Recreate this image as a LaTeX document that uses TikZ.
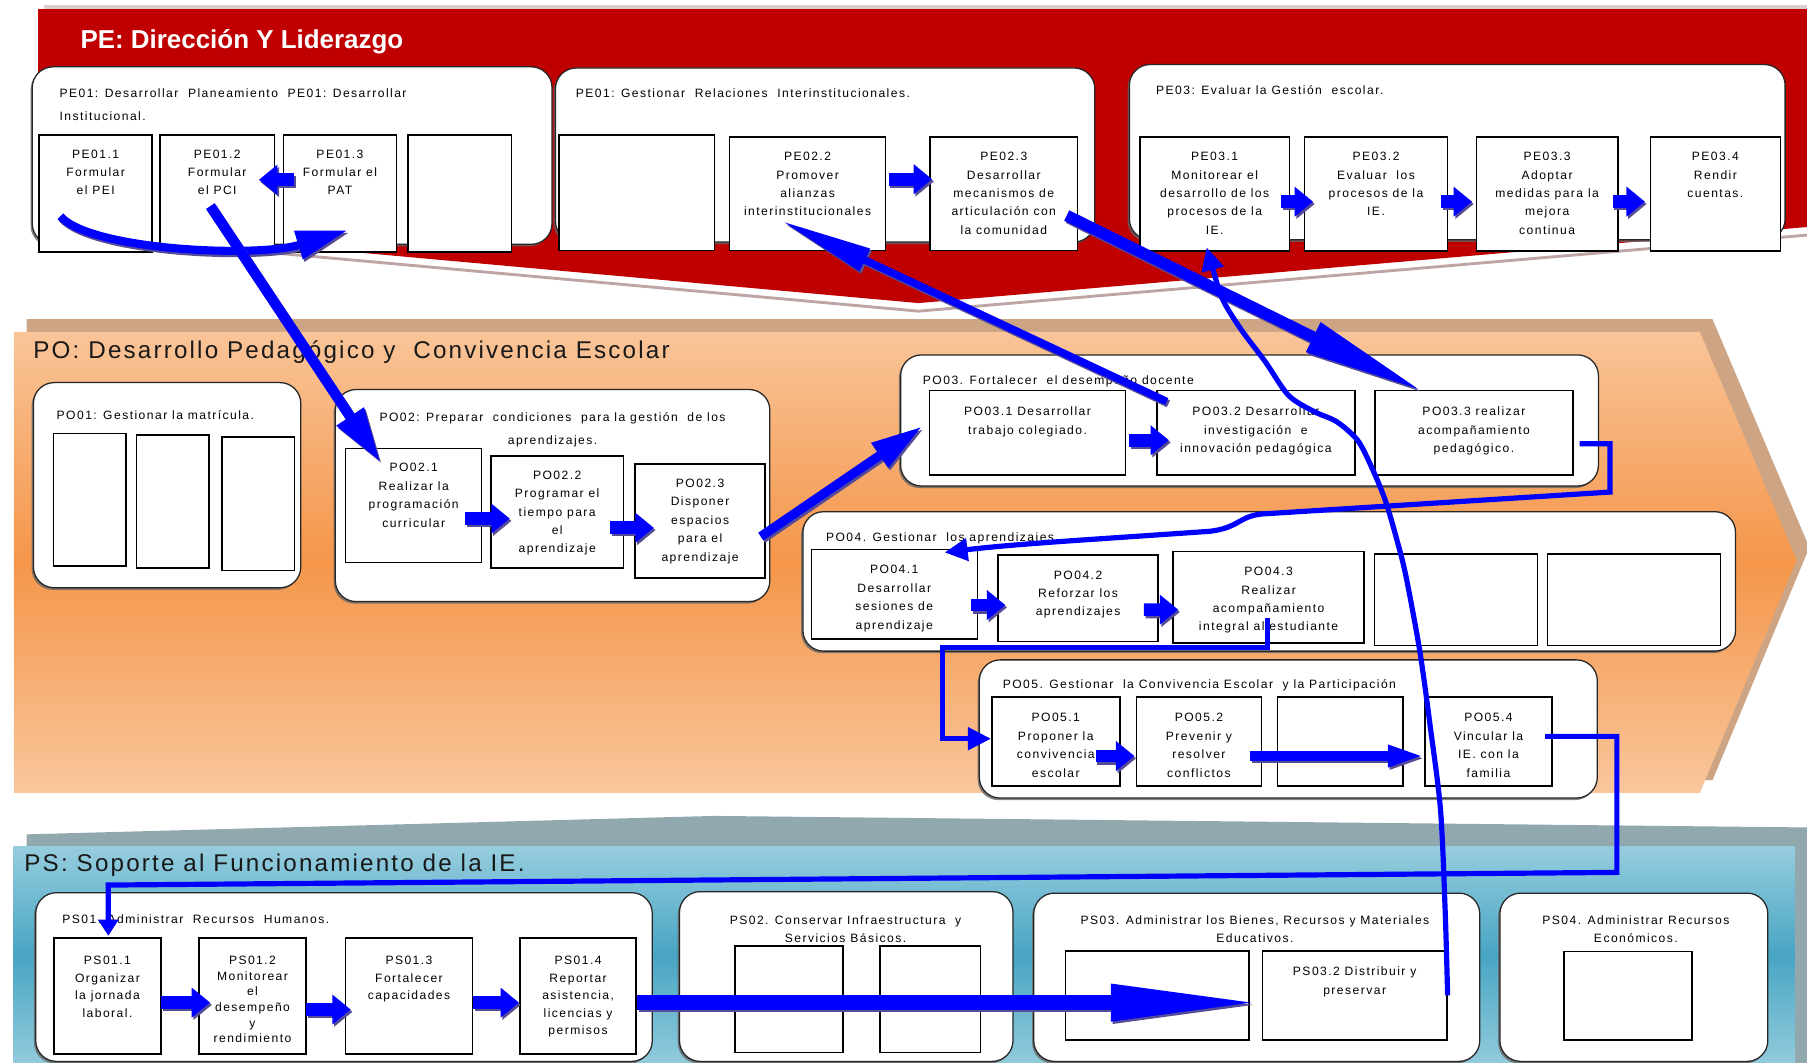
\documentclass[tikz,border=0pt]{standalone}
\usepackage{fontspec}
\setmainfont{Liberation Sans}
\newfontfamily\smallf[LetterSpace=12]{Liberation Sans}
\newfontfamily\titlef[LetterSpace=9]{Liberation Sans}
\usetikzlibrary{arrows.meta,calc,shadows}

\definecolor{pered}{RGB}{192,0,0}
\definecolor{peshadow}{RGB}{190,165,165}
\definecolor{petop}{RGB}{220,205,205}
\definecolor{potan}{RGB}{205,165,132}
\definecolor{potop}{RGB}{249,196,152}
\definecolor{pomid}{RGB}{245,150,74}
\definecolor{pobot}{RGB}{249,198,156}
\definecolor{psgrey}{RGB}{145,168,175}
\definecolor{pstop}{RGB}{150,205,222}
\definecolor{psmid}{RGB}{72,165,195}
\definecolor{psbot}{RGB}{145,203,220}
\definecolor{arrblue}{RGB}{0,0,255}
\definecolor{arrshadow}{RGB}{85,75,150}
\definecolor{titledark}{RGB}{25,25,25}

\newcommand\procbx[7]{%
  \pgfmathsetmacro\pbw{#4-#2}\pgfmathsetmacro\pbh{#5-#3}%
  \pgfmathsetmacro\pbX{(#2+#4)/2}\pgfmathsetmacro\pbY{(#3+#5)/2}%
  \node[procbox, minimum width=\pbw pt, minimum height=\pbh pt] (#1) at (\pbX,\pbY)
    {\parbox[c][\pbh pt][t]{\pbw pt}{\centering\vspace*{#6pt}#7\par}};}
\newcommand\contbx[5]{%
  \pgfmathsetmacro\pbw{#4-#2}\pgfmathsetmacro\pbh{#5-#3}%
  \pgfmathsetmacro\pbX{(#2+#4)/2}\pgfmathsetmacro\pbY{(#3+#5)/2}%
  \node[contbox, minimum width=\pbw pt, minimum height=\pbh pt] (#1) at (\pbX,\pbY) {};}
\newcommand\shdarr[3]{%
  \draw[#1, draw=arrshadow] ($#2+(1.5,2)$) -- ($#3+(1.5,2)$);
  \draw[#1] ($#2$) -- ($#3$);}

\tikzset{
  procbox/.style={draw=black, line width=1.3pt, fill=white, inner sep=0pt,
    font=\smallf\fontsize{10.5}{16}\selectfont},
  contbox/.style={draw=black!85, line width=1.1pt, fill=white, rounded corners=18pt, inner sep=0pt,
    drop shadow={shadow xshift=-1.5pt, shadow yshift=-1.8pt, fill=black!60, opacity=0.8}},
  hdr/.style={inner sep=0pt, text=black, font=\smallf\fontsize{10.5}{16}\selectfont},
  blk/.style={line width=11pt, draw=arrblue, -{Triangle[length=16pt,width=25pt]}},
  bigA/.style={line width=9pt, draw=arrblue, -{Triangle[length=48pt,width=26pt]}},
  bigC/.style={line width=10pt, draw=arrblue, -{Triangle[length=108pt,width=26pt]}},
  bigD/.style={line width=6.5pt, draw=arrblue, -{Triangle[length=80pt,width=20pt]}},
  bigE/.style={line width=8pt, draw=arrblue, -{Triangle[length=45pt,width=24pt]}},
  bigF/.style={line width=8.5pt, draw=arrblue, -{Triangle[length=32pt,width=17pt]}},
  bigG/.style={line width=13pt, draw=arrblue, -{Triangle[length=134pt,width=29pt]}},
  curv/.style={line width=7pt, draw=arrblue, -{Triangle[length=45pt,width=24pt]}},
  thinc/.style={line width=4.5pt, draw=arrblue, line join=miter, -{Triangle[length=20pt,width=19pt]}},
}

\begin{document}
\begin{tikzpicture}[x=1pt,y=-1pt]
\useasboundingbox (0,0) rectangle (1568,922.4);
\fill[white] (0,0) rectangle (1568,922.4);

% ---------- PE band ----------
\fill[petop] (38,4) rectangle (1568,9);
\draw[peshadow, line width=2.5pt] (33,201) -- (797,270) -- (1568,204);
\fill[pered] (33,8) -- (1568,8) -- (1568,197) -- (797,263) -- (33,194) -- cycle;

% ---------- PO band ----------
\fill[potan] (23,277) -- (1486,277) -- (1570,475) -- (1486,677) -- (23,677) -- cycle;
\shade[top color=potop, bottom color=pobot, middle color=pomid]
  (12,288) -- (1475,288) -- (1559,486) -- (1475,688) -- (12,688) -- cycle;

% ---------- PS band ----------
\fill[psgrey] (23,724) -- (620,708) -- (1568,718) -- (1568,922.4) -- (1557.5,922.4) -- (1557.5,734.6) -- (23,734.6) -- cycle;
\shade[top color=pstop, bottom color=psbot, middle color=psmid] (11.6,734.6) rectangle (1557.5,922.4);

% ---------- titles ----------
\node[anchor=base west, inner sep=0pt, text=white, font=\normalfont\bfseries\fontsize{22.5}{26}\selectfont] (tpe) at (69.7,42) {PE: Dirección Y Liderazgo};
\node[anchor=base west, inner sep=0pt, text=titledark, font=\titlef\fontsize{21}{25}\selectfont] (tpo) at (28.8,311.5) {PO: Desarrollo Pedagógico y\ \ Convivencia Escolar};
\node[anchor=base west, inner sep=0pt, text=titledark, font=\titlef\fontsize{21}{25}\selectfont] (tps) at (21,756) {PS: Soporte al Funcionamiento de la IE.};

% ---------- containers ----------
\contbx{cpe1}{28}{58}{479}{212}
\contbx{cpe2}{482}{59}{950}{210}
\contbx{cpe3}{980}{56}{1549}{208}
\contbx{cpo1}{29}{332}{261}{510}
\contbx{cpo2}{291}{338}{668}{522}
\contbx{cpo3}{781.5}{308}{1387}{421.7}
\contbx{cpo4}{696.7}{444}{1506}{565}
\contbx{cpo5}{849.8}{572.6}{1386}{692.5}
\contbx{cps1}{31}{774.6}{566}{921}
\contbx{cps2}{589.6}{773.7}{879}{921}
\contbx{cps3}{897}{775}{1284}{921}
\contbx{cps4}{1301.5}{775}{1534}{921}

% ---------- container headers ----------
\node[hdr, anchor=north west, align=left, font=\smallf\fontsize{10.5}{20.3}\selectfont] (hpe1) at (51.5,76.5) {PE01: Desarrollar\ \ Planeamiento\ \ PE01: Desarrollar\\Institucional.};
\node[hdr, anchor=north west] (hpe2) at (499.5,76.5) {PE01: Gestionar\ \ Relaciones\ \ Interinstitucionales.};
\node[hdr, anchor=north west] (hpe3) at (1003,74) {PE03: Evaluar la Gestión\ \ escolar.};
\node[hdr, anchor=north west] (hpo1) at (49,356) {PO01: Gestionar la matrícula.};
\node[hdr, anchor=north, align=center, font=\smallf\fontsize{10.5}{20}\selectfont] (hpo2) at (479.5,358) {PO02: Preparar\ \ condiciones\ \ para la gestión\ \ de los\\aprendizajes.};
\node[hdr, anchor=north west] (hpo3) at (800.7,325.7) {PO03. Fortalecer\ \ el desempeño docente};
\node[hdr, anchor=north west] (hpo4) at (716.6,461.7) {PO04. Gestionar\ \ los aprendizajes.};
\node[hdr, anchor=north west] (hpo5) at (870,589.7) {PO05. Gestionar\ \ la Convivencia Escolar\ \ y la Participación};
\node[hdr, anchor=north west] (hps1) at (54,793.5) {PS01. Administrar\ \ Recursos\ \ Humanos.};
\node[hdr, anchor=north, align=center] (hps2) at (733.7,794) {PS02. Conservar Infraestructura\ \ y\\Servicios Básicos.};
\node[hdr, anchor=north, align=center] (hps3) at (1089,794) {PS03. Administrar los Bienes, Recursos y Materiales\\Educativos.};
\node[hdr, anchor=north, align=center] (hps4) at (1419.5,794) {PS04. Administrar Recursos\\Económicos.};

% ---------- process boxes ----------
\procbx{pe011}{34}{117}{132}{218.6}{12.8}{PE01.1\\Formular\\el PEI}
\procbx{pe012}{139}{117}{238}{218.6}{12.8}{PE01.2\\Formular\\el PCI}
\procbx{pe013}{246}{117}{344}{218.6}{12.8}{PE01.3\\Formular el\\PAT}
\procbx{pe014}{354}{117}{444}{218.6}{0}{}
\procbx{pe021}{485}{117}{620}{217.5}{0}{}
\procbx{pe022}{633}{119}{768.5}{217.5}{13}{PE02.2\\Promover\\alianzas\\interinstitucionales}
\procbx{pe023}{807}{119}{935}{217.5}{13}{PE02.3\\Desarrollar\\mecanismos de\\articulación con\\la comunidad}
\procbx{pe031}{989}{119}{1119}{218}{13}{PE03.1\\Monitorear el\\desarrollo de los\\procesos de la\\IE.}
\procbx{pe032}{1132}{119}{1256}{218}{13}{PE03.2\\Evaluar\ \ los\\procesos de la\\IE.}
\procbx{pe033}{1281}{119}{1404}{218}{13}{PE03.3\\Adoptar\\medidas para la\\mejora\\continua}
\procbx{pe034}{1432}{119}{1545}{218}{13}{PE03.4\\Rendir\\cuentas.}

\procbx{po011}{46.5}{376}{109.4}{491}{0}{}
\procbx{po012}{118.6}{377.6}{181.5}{493}{0}{}
\procbx{po013}{192.6}{379}{255.5}{495}{0}{}
\procbx{po021}{300}{389}{418}{488}{13}{PO02.1\\Realizar la\\programación\\curricular}
\procbx{po022}{426}{395.5}{541}{493}{13}{PO02.2\\Programar el\\tiempo para\\el\\aprendizaje}
\procbx{po023}{551}{402.6}{664}{501.6}{13}{PO02.3\\Disponer\\espacios\\para el\\aprendizaje}
\procbx{po031}{806.6}{339}{976.7}{412}{14}{PO03.1 Desarrollar\\trabajo colegiado.}
\procbx{po032}{1003.8}{339}{1175.7}{412}{14}{PO03.2 Desarrollar\\investigación\ \ e\\innovación pedagógica}
\procbx{po033}{1193}{339}{1365}{412}{14}{PO03.3 realizar\\acompañamiento\\pedagógico.}
\procbx{po041}{704}{477}{848}{554.5}{13.5}{PO04.1\\Desarrollar\\sesiones de\\aprendizaje}
\procbx{po042}{866}{481.6}{1005}{556.8}{13.5}{PO04.2\\Reforzar los\\aprendizajes}
\procbx{po043}{1018}{478.7}{1183.6}{558}{13.5}{PO04.3\\Realizar\\acompañamiento\\integral al estudiante}
\procbx{po044}{1192.7}{480.7}{1334}{560}{0}{}
\procbx{po045}{1342.8}{480.7}{1493}{560}{0}{}
\procbx{po051}{860.6}{605}{971.7}{682}{14}{PO05.1\\Proponer la\\convivencia\\escolar}
\procbx{po052}{986}{605}{1094.7}{682}{14}{PO05.2\\Prevenir y\\resolver\\conflictos}
\procbx{po053}{1108.6}{605}{1217.5}{682}{0}{}
\procbx{po054}{1236.6}{605}{1346.6}{682}{14}{PO05.4\\Vincular la\\IE. con la\\familia}

\procbx{ps011}{47}{814}{139.5}{914.6}{15.7}{\fontsize{10.5}{15.2}\selectfont PS01.1\\Organizar\\la jornada\\laboral.}
\procbx{ps012}{172.8}{814}{265.4}{914.6}{15.7}{\fontsize{10.5}{13.6}\selectfont PS01.2\\Monitorear\\el\\desempeño\\y\\rendimiento}
\procbx{ps013}{300}{814}{409.8}{914.6}{15.7}{\fontsize{10.5}{15.2}\selectfont PS01.3\\Fortalecer\\capacidades}
\procbx{ps014}{451.3}{814}{552}{914.6}{15.7}{\fontsize{10.5}{15.2}\selectfont PS01.4\\Reportar\\asistencia,\\licencias y\\permisos}
\procbx{ps021}{637.8}{820.8}{731.7}{913.4}{0}{}
\procbx{ps022}{763.6}{820.8}{850.9}{913.4}{0}{}
\procbx{ps031}{924.5}{825}{1084}{902.4}{0}{}
\procbx{ps032}{1095.5}{825}{1255.5}{902.4}{14}{PS03.2 Distribuir y\\preservar}
\procbx{ps041}{1357}{825.8}{1468}{902.4}{0}{}

% ---------- short block arrows ----------
\shdarr{blk}{(pe013.west)+(10,-11.8)}{(pe012.east)+(-14,-11.8)}
\shdarr{blk}{(pe022.east)+(2,-12.75)}{(pe023.west)+(2.5,-12.75)}
\shdarr{blk}{(pe031.east)+(-8,6.5)}{(pe032.west)+(8,6.5)}
\shdarr{blk}{(pe032.east)+(-6.4,6.5)}{(pe033.west)+(-3,6.5)}
\shdarr{blk}{(pe033.east)+(-5.3,6.5)}{(pe034.west)+(-4,6.5)}
\shdarr{blk}{(po021.east)+(-15,11.5)}{(po022.west)+(17,5.75)}
\shdarr{blk}{(po022.east)+(-12,13.75)}{(po023.west)+(17,5.9)}
\shdarr{blk}{(po031.east)+(2.3,6.5)}{(po032.west)+(11.2,6.5)}
\shdarr{blk}{(po041.east)+(-6,9.25)}{(po042.west)+(7,5.8)}
\shdarr{blk}{(po042.east)+(-13,9.8)}{(po043.west)+(5,10.65)}
\shdarr{blk}{(po051.east)+(-21.7,12.5)}{(po052.west)+(-1,12.5)}
\shdarr{blk}{(ps011.east)+(-0.5,5.7)}{(ps012.west)+(10.2,5.7)}
\shdarr{blk}{(ps012.east)+(-0.4,11.7)}{(ps013.west)+(5,11.7)}
\shdarr{blk}{(ps013.east)+(0.2,5.7)}{(ps014.west)+(-0.3,5.7)}

% ---------- long / big arrows ----------
\draw[curv, draw=arrshadow] ($(pe011.south west)+(20.5,-29.6)$) .. controls (79.5,219) and (223.5,226) .. ($(pe013.south)+(8.5,-17.6)$);
\draw[curv] ($(pe011.south west)+(19,-31.6)$) .. controls (78,217) and (222,224) .. ($(pe013.south)+(7,-19.6)$);
\shdarr{bigA}{(pe012.center)+(-6,11)}{(po021.north west)+(31,13)}
\shdarr{bigD}{(po032.north west)+(9.2,10)}{(pe022.south)+(-22.75,-26.5)}
\shdarr{bigC}{(pe023.east)+(-10,18.75)}{(po033.north west)+(44,2)}
\shdarr{bigE}{(po023.east)+(-4.5,13.5)}{(cpo3.west)+(19.5,5)}
\shdarr{bigF}{(po052.east)+(-10.7,12.5)}{(po054.west)+(0.4,12.5)}
\shdarr{bigG}{(ps014.east)+(0,5.7)}{(ps032.west)+(3,6.3)}

% ---------- thin connectors ----------
\coordinate (h0) at (ps032.east);
\coordinate (h1) at ($(pe031.south)+(-7,-4)$);
\draw[thinc] plot[smooth, tension=0.5] coordinates {(h0) (1254,790) (1250,703) (1241,630) (1232,565) (1220,500) (1212,468) (1202,434) (1190,405) (1178,382) (1160,366) (1140,357) (1118,343) (1098,314) (1077,286) (1061,260) (1052,232) (h1)};

\draw[thinc] ($(po033.east)+(5,9.5)$) -- (1397,385) -- (1397,427) -- (1095,446)
  .. controls (1075,448) and (1075,458) .. (1050,461)
  .. controls (950,468) and (880,472) .. ($(po041.north east)+(-29,3)$);

\draw[thinc] ($(po043.south)+(-0.8,-22)$) -- (1100,562) -- (818,562) -- (818,641) -- ($(po051.west)+(0,-2.5)$);

\draw[thinc, -{Triangle[length=14pt,width=17pt]}] ($(po054.east)+(-6.6,-4.5)$) -- (1403,639) -- (1403,757) -- (94,768) -- ($(ps011.north)+(0.75,-1.3)$);

\end{tikzpicture}
\end{document}
